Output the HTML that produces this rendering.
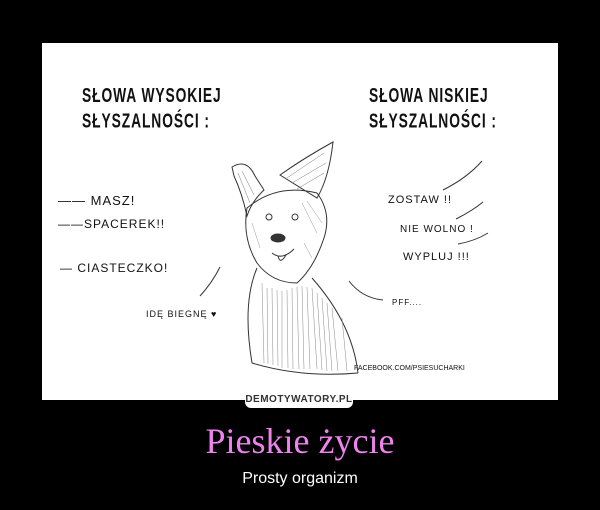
<!DOCTYPE html>
<html><head><meta charset="utf-8"><style>
html,body{margin:0;padding:0;background:#000;width:600px;height:510px;overflow:hidden}
#frame{position:absolute;left:42px;top:43px;width:516px;height:357px;background:#fff}
.t{position:absolute;font-family:"Liberation Sans Narrow","Liberation Sans",sans-serif;color:#111;white-space:nowrap}
.h{font-size:15px;letter-spacing:1px;transform:scale(0.92,1.35);transform-origin:0 0;font-weight:bold;line-height:19px}
.s{font-size:11px;letter-spacing:1px}
#logo{position:absolute;left:245px;top:392px;width:108px;height:16px;background:#fff;border-radius:0 0 6px 6px;font:bold 10px "Liberation Sans",sans-serif;color:#333;text-align:center;line-height:16px;letter-spacing:0.5px}
#title{position:absolute;left:0;width:600px;top:420px;text-align:center;font:36px "Liberation Serif",serif;color:#ee82ee}
#sub{position:absolute;left:0;width:600px;top:470px;text-align:center;font:16px "Liberation Sans",sans-serif;color:#fff}
</style></head><body>
<div id="frame">
<div class="t h" style="left:40px;top:40px">SŁOWA WYSOKIEJ<br>SŁYSZALNOŚCI :</div>
<div class="t h" style="left:327px;top:40px">SŁOWA NISKIEJ<br>SŁYSZALNOŚCI :</div>
<div class="t s" style="left:16px;top:150px;font-size:13px">—— MASZ!</div>
<div class="t s" style="left:16px;top:174px;font-size:12px">——SPACEREK!!</div>
<div class="t s" style="left:18px;top:218px;font-size:12px">— CIASTECZKO!</div>
<div class="t s" style="left:104px;top:266px;font-size:9px">IDĘ BIEGNĘ ♥</div>
<div class="t s" style="left:346px;top:151px">ZOSTAW !!</div>
<div class="t s" style="left:358px;top:181px;font-size:10px">NIE WOLNO !</div>
<div class="t s" style="left:361px;top:208px">WYPLUJ !!!</div>
<div class="t s" style="left:350px;top:255px;font-size:8px">PFF....</div>
<div class="t s" style="left:312px;top:322px;font-size:7px;letter-spacing:0">FACEBOOK.COM/PSIESUCHARKI</div>
<svg width="516" height="357" style="position:absolute;left:0;top:0" fill="none" stroke="#333" stroke-width="1">
<path d="M440 118 Q425 135 401 147 M441 159 Q430 168 414 176 M446 190 Q433 198 416 201 M178 224 Q170 240 158 253 M307 238 Q320 255 341 257"/>
<path d="M190 124 Q205 115 213 133 L222 147 Q210 158 205 173 Q200 150 192 133 Z"/>
<path d="M238 132 Q262 115 291 99 Q287 135 275 155 Z"/>
<g stroke="#777" stroke-width="0.5"><path d="M196 130 L208 160 M200 128 L212 152 M245 135 L282 110 M250 140 L284 120 M255 146 L282 130"/></g>
<path d="M205 165 Q235 140 275 150 Q290 170 282 195 Q272 225 255 240 Q230 240 215 220 Q200 195 205 165 Z"/>
<g stroke="#999" stroke-width="0.5"><path d="M260 160 L275 190 M265 158 L280 180 M210 180 L218 205 M262 200 L270 215"/></g>
<circle cx="227" cy="174" r="3"/><circle cx="253" cy="174" r="3"/>
<ellipse cx="236" cy="195" rx="7" ry="4" fill="#333"/>
<path d="M230 210 Q240 218 252 206 M236 213 Q238 222 244 212"/>
<path d="M215 225 Q200 260 210 320 M270 235 Q310 280 316 330 M210 320 Q260 335 316 330"/>
<g stroke="#888" stroke-width="0.5"><path d="M220 240 L222 320 M230 245 L231 322 M240 248 L240 325 M250 245 L251 326 M260 243 L262 326 M270 245 L275 326 M280 255 L285 328 M290 265 L296 328 M300 275 L305 328 M225 245 L226 321 M235 247 L236 323 M245 247 L246 325 M255 244 L257 326 M265 244 L268 326 M275 250 L280 327 M285 260 L290 328"/></g>
</svg>
</div>
<div id="logo">DEMOTYWATORY.PL</div>
<div id="title">Pieskie życie</div>
<div id="sub">Prosty organizm</div>
</body></html>
